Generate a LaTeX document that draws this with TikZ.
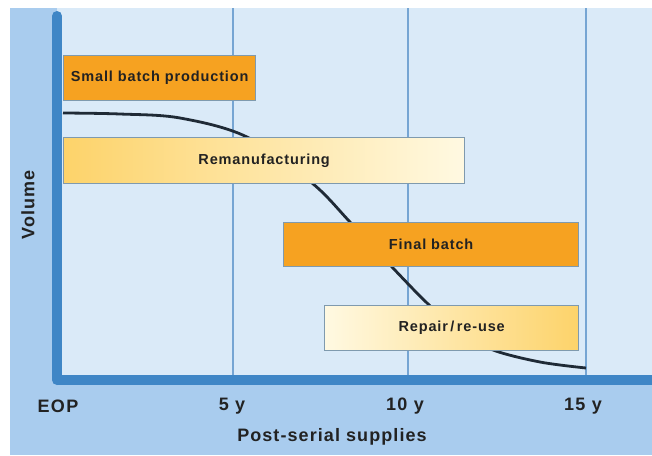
\documentclass[tikz,border=0pt]{standalone}
\usepackage{fontspec}
\setmainfont{Liberation Sans}
\newfontfamily\trackedfont[LetterSpace=6]{Liberation Sans}
\newfontfamily\tickfont[LetterSpace=8]{Liberation Sans}
\usetikzlibrary{positioning, calc}
\definecolor{bgouter}{HTML}{A9CCEE}
\definecolor{bginner}{HTML}{DAEAF8}
\definecolor{axisblue}{HTML}{3F86C6}
\definecolor{gridblue}{HTML}{76A5D3}
\definecolor{barorange}{HTML}{F6A221}
\definecolor{barline}{HTML}{7F9AAE}
\definecolor{paleyellow}{HTML}{FFF9E2}
\definecolor{warmyellow}{HTML}{FDD36A}
\definecolor{curvedark}{HTML}{1F2A36}
\definecolor{textdark}{HTML}{222222}
\tikzset{bar/.style={draw=barline, line width=1.3pt, anchor=north west, inner sep=0pt, text=textdark, font=\trackedfont\bfseries\fontsize{14.5}{16}\selectfont},
bar_full/.style={bar, fill=barorange},
tick_t/.style={text=textdark, font=\tickfont\bfseries\fontsize{18}{20}\selectfont},
axis_t/.style={text=textdark, font=\trackedfont\bfseries\fontsize{18}{20}\selectfont},
grid_l/.style={draw=gridblue, line width=1.6pt},
axis_l/.style={draw=axisblue, line width=10pt},
vol_curve/.style={draw=curvedark, line width=2.8pt}}

\begin{document}
\begin{tikzpicture}[x=1pt, y=-1pt]
  \useasboundingbox (0,0) rectangle (652,455);
  % backgrounds
  \fill[white] (0,0) rectangle (652,455);
  \fill[bgouter] (10,8) rectangle (652,455);
  \fill[bginner] (57,8) rectangle (652,380);
  % grid
  \coordinate (g5t) at (233,8);   \coordinate (g5b) at (233,380);
  \coordinate (g10t) at (408,8);  \coordinate (g10b) at (408,380);
  \coordinate (g15t) at (586,8);  \coordinate (g15b) at (586,380);
  \draw[grid_l] (g5t) -- (g5b);
  \draw[grid_l] (g10t) -- (g10b);
  \draw[grid_l] (g15t) -- (g15b);
  % volume curve
  \draw[vol_curve] plot[smooth, tension=0.55] coordinates {(63,113) (120,114) (180,118) (247,137) (312,183) (350,222) (392,267) (427,303) (460,332) (493,350) (540,362) (586,368)};
  % bars
  \node[bar_full, minimum width=192pt, minimum height=45pt] (small) at (63,55) {Small batch production};
  \node[bar, left color=warmyellow, right color=paleyellow, minimum width=401pt, minimum height=46pt] (reman) at (63,137) {Remanufacturing};
  \node[bar_full, minimum width=295pt, minimum height=44pt] (final) at (283,222) {Final batch};
  \node[bar, left color=paleyellow, right color=warmyellow, minimum width=254pt, minimum height=45pt] (repair) at (324,305) {Repair\,/\,re-use};
  % axes
  \coordinate (origin) at (57,380);
  \coordinate (ytop) at (57,16);
  \coordinate (xend) at (652,380);
  \draw[axis_l, line cap=round] (ytop) -- (origin);
  \draw[axis_l] (origin) -- (xend);
  % labels
  \node[tick_t] (eop) at (58,406) {EOP};
  \node[tick_t] (t5) at (232,406) {5 y};
  \node[tick_t] (t10) at (405,406) {10 y};
  \node[tick_t] (t15) at (583,406) {15 y};
  \node[axis_t] (xlab) at (332,437) {Post-serial supplies};
  \node[axis_t, rotate=90] (ylab) at (28,205) {Volume};
\end{tikzpicture}
\end{document}
